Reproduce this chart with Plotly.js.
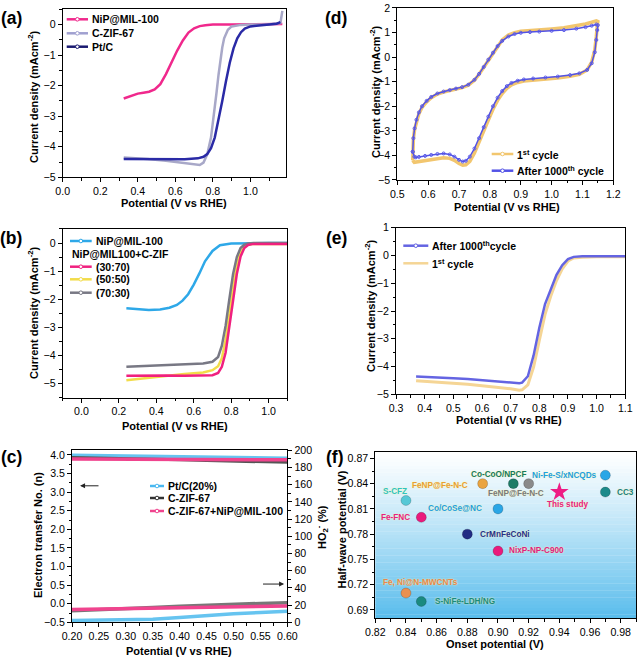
<!DOCTYPE html>
<html><head><meta charset="utf-8">
<script src="https://cdn.plot.ly/plotly-3.0.1.min.js"></script>
<style>html,body{margin:0;padding:0;background:#fff}#chart{width:640px;height:661px}</style>
</head><body><div id="chart"></div>
<script>
// ---------- (a) LSV ----------
const aNiPx = [0.325,0.35,0.37,0.40,0.43,0.46,0.49,0.52,0.55,0.58,0.61,0.64,0.67,0.70,0.73,0.76,0.80,0.90,1.00,1.10,1.17];
const aNiPy = [-2.42,-2.36,-2.31,-2.26,-2.23,-2.20,-2.12,-1.95,-1.62,-1.23,-0.85,-0.52,-0.26,-0.12,-0.05,-0.02,0,0,0,0.01,0.02];
const aZIFx = [0.325,0.37,0.45,0.55,0.65,0.70,0.73,0.75,0.77,0.79,0.80,0.81,0.82,0.83,0.84,0.85,0.86,0.88,0.90,0.95,1.00,1.10,1.16,1.17];
const aZIFy = [-4.35,-4.36,-4.40,-4.46,-4.53,-4.58,-4.60,-4.52,-4.25,-3.70,-3.25,-2.75,-2.20,-1.65,-1.15,-0.75,-0.45,-0.17,-0.06,-0.01,0,0.01,0.05,0.45];
const aPtCx = [0.325,0.37,0.45,0.55,0.65,0.72,0.75,0.77,0.79,0.81,0.83,0.85,0.87,0.89,0.91,0.93,0.95,0.97,1.00,1.05,1.10,1.14,1.16];
const aPtCy = [-4.40,-4.40,-4.41,-4.42,-4.41,-4.38,-4.33,-4.24,-4.05,-3.70,-3.15,-2.50,-1.85,-1.25,-0.78,-0.45,-0.25,-0.13,-0.06,-0.02,0,0.03,0.08];

// ---------- (b) LSV of ratios ----------
const bNiPx = [0.24,0.30,0.36,0.42,0.47,0.51,0.54,0.57,0.60,0.63,0.66,0.70,0.74,0.80,0.90,1.00,1.10];
const bNiPy = [-2.32,-2.36,-2.38,-2.36,-2.30,-2.20,-2.05,-1.82,-1.48,-1.08,-0.65,-0.28,-0.08,-0.02,0,0,0];
const bMixPotential = [0.24,0.30,0.37,0.45,0.55,0.65,0.70,0.73,0.75,0.77,0.79,0.81,0.83,0.85,0.87,0.89,0.92,1.00,1.10];
const b3070 = [-4.72,-4.71,-4.70,-4.71,-4.72,-4.72,-4.70,-4.62,-4.40,-3.90,-3.05,-2.05,-1.10,-0.48,-0.18,-0.07,-0.03,-0.03,-0.03];
const b5050 = [-4.88,-4.83,-4.78,-4.73,-4.66,-4.60,-4.52,-4.38,-4.10,-3.45,-2.55,-1.55,-0.78,-0.32,-0.12,-0.05,-0.03,-0.03,-0.03];
const b7030 = [-4.40,-4.38,-4.36,-4.33,-4.31,-4.28,-4.22,-4.05,-3.65,-2.95,-2.00,-1.10,-0.50,-0.18,-0.06,-0.02,0,0,0];

// ---------- (c) electron transfer / HO2- ----------
const cPotential = [0.20,0.25,0.30,0.35,0.40,0.45,0.50,0.55,0.60];
const cPtC_n  = [3.99,3.98,3.97,3.96,3.95,3.94,3.93,3.92,3.91];
const cZIF_n  = [3.93,3.92,3.90,3.89,3.87,3.85,3.83,3.82,3.80];
const cMix_n  = [3.89,3.89,3.88,3.88,3.88,3.87,3.87,3.87,3.87];
const cPtC_ho2 = [2.0,2.5,3.0,3.5,5.5,8.0,10.0,11.5,12.8];
const cZIF_ho2 = [13.5,14.5,15.8,17.2,18.6,20.0,21.2,22.0,22.8];
const cMix_ho2 = [15.0,15.5,16.0,16.6,17.2,17.8,18.3,18.7,19.0];

// ---------- (d) CV ----------
const dPotential = [0.550,0.552,0.556,0.562,0.570,0.580,0.595,0.610,0.630,0.650,0.670,0.690,0.710,0.730,0.750,0.765,0.780,0.795,0.810,0.825,0.840,0.860,0.880,0.900,0.930,0.960,1.000,1.040,1.080,1.110,1.130,1.145,1.150,
  1.148,1.145,1.140,1.130,1.115,1.090,1.060,1.020,0.980,0.940,0.910,0.890,0.870,0.855,0.840,0.825,0.810,0.795,0.780,0.765,0.750,0.735,0.722,0.712,0.700,0.685,0.670,0.650,0.630,0.610,0.590,0.570,0.560,0.555,0.550];
const dCycle1000 = [-3.85,-3.30,-2.90,-2.55,-2.25,-2.00,-1.78,-1.62,-1.48,-1.40,-1.34,-1.28,-1.22,-1.12,-0.92,-0.68,-0.40,-0.10,0.18,0.45,0.66,0.84,0.94,0.99,1.02,1.04,1.07,1.10,1.16,1.22,1.28,1.33,1.30,
  1.10,0.70,0.20,-0.25,-0.52,-0.66,-0.73,-0.79,-0.83,-0.87,-0.91,-0.96,-1.05,-1.18,-1.38,-1.65,-2.00,-2.42,-2.85,-3.30,-3.72,-4.05,-4.22,-4.25,-4.18,-4.05,-3.96,-3.92,-3.94,-3.98,-4.02,-4.06,-4.08,-4.05,-3.85];
const dCycle1 = [-4.20,-3.35,-2.95,-2.60,-2.30,-2.05,-1.82,-1.65,-1.50,-1.42,-1.36,-1.30,-1.24,-1.14,-0.94,-0.70,-0.42,-0.12,0.18,0.47,0.70,0.90,1.00,1.05,1.09,1.12,1.15,1.20,1.27,1.35,1.42,1.48,1.45,
  1.30,0.85,0.30,-0.20,-0.52,-0.70,-0.78,-0.85,-0.89,-0.93,-0.97,-1.03,-1.13,-1.27,-1.48,-1.76,-2.12,-2.56,-3.00,-3.46,-3.90,-4.24,-4.38,-4.40,-4.33,-4.20,-4.12,-4.10,-4.14,-4.18,-4.23,-4.28,-4.30,-4.28,-4.20];

// ---------- (e) LSV stability ----------
const ePotential = [0.37,0.40,0.45,0.50,0.55,0.60,0.65,0.70,0.73,0.74,0.76,0.78,0.80,0.82,0.84,0.86,0.88,0.90,0.92,0.95,1.00,1.05,1.10];
const eCycle1000 = [-4.36,-4.37,-4.39,-4.42,-4.45,-4.49,-4.53,-4.57,-4.60,-4.58,-4.35,-3.60,-2.60,-1.75,-1.20,-0.70,-0.35,-0.13,-0.05,-0.03,-0.03,-0.03,-0.03];
const eCycle1 = [-4.51,-4.53,-4.56,-4.60,-4.64,-4.69,-4.74,-4.80,-4.85,-4.84,-4.66,-4.02,-3.06,-2.12,-1.46,-0.90,-0.48,-0.20,-0.09,-0.06,-0.05,-0.05,-0.05];

// ---------- (f) comparison ----------
const fCatalysts = ['S-CFZ','FeNP@Fe-N-C','Co-CoO/NPCF','FeNP@Fe-N-C','Ni-Fe-S/xNCQDs','CC3','Co/CoSe@NC','Fe-FNC','CrMnFeCoNi','NixP-NP-C900','Fe, Ni@N-MWCNTs','S-NiFe-LDH/NG'];
const fOnset    = [0.84,0.89,0.91,0.92,0.97,0.97,0.90,0.85,0.88,0.90,0.84,0.85];
const fHalfWave = [0.82,0.84,0.84,0.84,0.85,0.83,0.81,0.80,0.78,0.76,0.71,0.70];
const fStudyName = ['This study'];
const fStudyOnset = [0.94];
const fStudyHalfWave = [0.83];

// ---------- styles ----------
const FONT = 'Liberation Sans, Arial, sans-serif';
const fColors = ['#55c8d6','#eaa440','#1c7c66','#8a8a8a','#2aa6e6','#1d8a8a','#2aa6e6','#ea1a7c','#222c84','#ea1a7c','#ea9050','#1a8a80'];
const fTextColors = ['#2fc4c0','#e8a030','#167a5a','#7a7a7a','#22a0e0','#1a8080','#22a0e0','#e8207f','#25308c','#e0207f','#e8884a','#1a8a7a'];
const fShift = [[-11,9,'center'],[-12.7,-2,'right'],[-14,9,'center'],[-13,-10,'center'],[-6.7,0,'right'],[10,0,'left'],[-14.4,0,'right'],[-9.3,0,'right'],[10.6,0,'left'],[9,0,'left'],[14.8,10.7,'center'],[11.7,0,'left']];

function ax(o){
  return Object.assign({showline:true, linecolor:'#000', linewidth:1, mirror:true, ticks:'outside', ticklen:4, tickwidth:1, tickcolor:'#000',
    showgrid:false, zeroline:false, fixedrange:true, layer:'above traces',
    tickfont:{family:FONT, size:10.6, color:'#000'}}, o);
}
function mn(d){ return {dtick:d, ticks:'outside', ticklen:2.5, tickwidth:1, tickcolor:'#000', showgrid:false}; }

const traces = [
  {x:aNiPx, y:aNiPy, xaxis:'x', yaxis:'y', mode:'lines', line:{color:'#f0288c', width:2.5}},
  {x:aZIFx, y:aZIFy, xaxis:'x', yaxis:'y', mode:'lines', line:{color:'#a8a8c8', width:2.5}},
  {x:aPtCx, y:aPtCy, xaxis:'x', yaxis:'y', mode:'lines', line:{color:'#2a2aa6', width:2.5}},

  {x:bNiPx, y:bNiPy, xaxis:'x2', yaxis:'y2', mode:'lines', line:{color:'#2ea8e8', width:2.5}},
  {x:bMixPotential, y:b5050, xaxis:'x2', yaxis:'y2', mode:'lines', line:{color:'#f2dc4a', width:2.5}},
  {x:bMixPotential, y:b7030, xaxis:'x2', yaxis:'y2', mode:'lines', line:{color:'#787884', width:2.5}},
  {x:bMixPotential, y:b3070, xaxis:'x2', yaxis:'y2', mode:'lines', line:{color:'#f0207f', width:2.5}},

  {x:cPotential, y:cPtC_n, xaxis:'x3', yaxis:'y3', mode:'lines', line:{color:'#66c4f0', width:3.5}},
  {x:cPotential, y:cZIF_n, xaxis:'x3', yaxis:'y3', mode:'lines', line:{color:'#555', width:3}},
  {x:cPotential, y:cMix_n, xaxis:'x3', yaxis:'y3', mode:'lines', line:{color:'#f0448e', width:3.5}},
  {x:cPotential, y:cPtC_ho2, xaxis:'x3', yaxis:'y7', mode:'lines', line:{color:'#66c4f0', width:3.5}},
  {x:cPotential, y:cZIF_ho2, xaxis:'x3', yaxis:'y7', mode:'lines', line:{color:'#777', width:3.5}},
  {x:cPotential, y:cMix_ho2, xaxis:'x3', yaxis:'y7', mode:'lines', line:{color:'#f0448e', width:3.5}},

  {x:dPotential, y:dCycle1, xaxis:'x4', yaxis:'y4', mode:'lines', line:{color:'#f2c66e', width:3.5}},
  {x:dPotential, y:dCycle1000, xaxis:'x4', yaxis:'y4', mode:'lines+markers', line:{color:'#5252e6', width:1.5},
    marker:{symbol:'circle-open', size:3, color:'#5a5ae8'}},

  {x:ePotential, y:eCycle1, xaxis:'x5', yaxis:'y5', mode:'lines', line:{color:'#f5d595', width:3}},
  {x:ePotential, y:eCycle1000, xaxis:'x5', yaxis:'y5', mode:'lines', line:{color:'#6464e2', width:2.5}},

  {x:fOnset, y:fHalfWave, text:fCatalysts, xaxis:'x6', yaxis:'y6', mode:'markers',
    marker:{size:10, color:fColors, line:{width:0.6, color:'rgba(0,0,0,0.3)'}}},
  {x:fStudyOnset, y:fStudyHalfWave, text:fStudyName, xaxis:'x6', yaxis:'y6', mode:'markers',
    marker:{symbol:'star', size:14, color:'#ee1c84', line:{width:0}}}
];

const W=640, H=661;
const px = v => v/W, py = v => 1 - v/H;
const annotations = [];
const shapes = [];
function txt(x, y, t, size, o){ annotations.push(Object.assign({xref:'paper', yref:'paper', x:px(x), y:py(y), text:t, showarrow:false,
  xanchor:'center', yanchor:'middle', font:{family:FONT, size:size, color:'#000'}}, o||{})); }

// panel labels
[['(a)',11,18],['(b)',11,238],['(c)',11,457],['(d)',336,17.5],['(e)',336,238],['(f)',334,457]].forEach(p=>txt(p[1],p[2],'<b>'+p[0]+'</b>',17.5));

// axis titles
const cd = '<b>Current density (mAcm<sup>-2</sup>)</b>';
const pot = '<b>Potential (V vs RHE)</b>';
txt(33,97,cd,11,{textangle:-90}); txt(174,203,pot,11);
txt(33,313,cd,11,{textangle:-90}); txt(175,425.5,pot,11);
txt(38,535,'<b>Electron transfer No. (n)</b>',11,{textangle:-90}); txt(179,650.5,pot,11);
txt(322,527,'<b>HO<sub>2</sub><sup>-</sup> (%)</b>',11,{textangle:-90});
txt(375,92,cd,11,{textangle:-90}); txt(507,207,pot,11);
txt(370,306,cd,11,{textangle:-90}); txt(509,419.5,pot,11);
txt(341.5,530,'<b>Half-wave potential (V)</b>',11,{textangle:-90}); txt(495,644,'<b>Onset potential (V)</b>',11);

// legends (swatch + text)
function leg(x0,x1,y,color,label,w,mk){
  shapes.push({type:'line', xref:'paper', yref:'paper', x0:px(x0), x1:px(x1), y0:py(y), y1:py(y), line:{color:color, width:w||2.5}});
  if(mk!==false){ const cx=(x0+x1)/2; shapes.push({type:'circle', xref:'paper', yref:'paper', x0:px(cx-1.8), x1:px(cx+1.8), y0:py(y+1.8), y1:py(y-1.8), line:{color:color, width:1}, fillcolor:'#fff'}); }
  txt(x1+2,y,'<b>'+label+'</b>',10.5,{xanchor:'left'});
}
leg(66.7,88,19.3,'#f0288c','NiP@MIL-100');
leg(66.7,88,33.3,'#a0a0d0','C-ZIF-67');
leg(66.7,88,46.7,'#1a1a70','Pt/C');
leg(70,91.7,241,'#2ea8e8','NiP@MIL-100');
txt(70,254.3,'<b>NiP@MIL100+C-ZIF</b>',10.5,{xanchor:'left'});
leg(70,91.7,266.7,'#f0207f','(30:70)');
leg(70,91.7,279.3,'#f2dc4a','(50:50)');
leg(70,91.7,292.7,'#787884','(70:30)');
leg(150,164,486,'#4ab8f0','Pt/C(20%)');
leg(150,164,498,'#333','C-ZIF-67');
leg(150,164,511,'#f0448e','C-ZIF-67+NiP@MIL-100');
leg(491.7,513.3,154,'#f2c66e','1<sup>st</sup> cycle');
leg(491.7,513.3,170.7,'#5252e6','After 1000<sup>th</sup> cycle');
leg(403.3,428.3,245.7,'#6464e2','After 1000<sup>th</sup>cycle');
leg(403.3,428.3,263.3,'#f5d595','1<sup>st</sup> cycle',2.5,false);

// (c) arrows
annotations.push({xref:'x3', yref:'y3', axref:'x3', ayref:'y3', x:0.215, y:3.17, ax:0.252, ay:3.17, showarrow:true, arrowhead:2, arrowsize:1, arrowwidth:1, arrowcolor:'#222', text:''});
annotations.push({xref:'x3', yref:'y7', axref:'x3', ayref:'y7', x:0.594, y:44.5, ax:0.552, ay:44.5, showarrow:true, arrowhead:2, arrowsize:1, arrowwidth:1, arrowcolor:'#222', text:''});

// (f) labels anchored at data points
fCatalysts.forEach((n,i)=>{
  annotations.push({xref:'x6', yref:'y6', x:fOnset[i], y:fHalfWave[i], text:'<b>'+n+'</b>', showarrow:false,
    xshift:fShift[i][0], yshift:fShift[i][1], xanchor:fShift[i][2], yanchor:'middle',
    font:{family:FONT, size:8.2, color:fTextColors[i], shadow:'0px 0px 2px #fff6b0'}});
});
annotations.push({xref:'x6', yref:'y6', x:fStudyOnset[0], y:fStudyHalfWave[0], text:'<b>'+fStudyName[0]+'</b>', showarrow:false,
  xshift:8.5, yshift:-12.5, xanchor:'center', yanchor:'middle', font:{family:FONT, size:8.2, color:'#e8207f', shadow:'0px 0px 2px #fff6b0'}});

// (f) gradient background
const N=48;
for(let i=0;i<N;i++){
  const t = 1 - (i+0.5)/N; // 0 top -> 1 bottom
  const f = Math.pow(t,1.15);
  const r = Math.round(255 + (88-255)*f), g = Math.round(255 + (188-255)*f), b = Math.round(255 + (236-255)*f);
  shapes.push({type:'rect', xref:'x6 domain', yref:'y6 domain', x0:0, x1:1, y0:i/N, y1:(i+1)/N+0.002, fillcolor:`rgb(${r},${g},${b})`, line:{width:0}, layer:'below'});
}

const layout = {
  width:W, height:H, margin:{l:0,r:0,t:0,b:0}, showlegend:false,
  paper_bgcolor:'#fff', plot_bgcolor:'rgba(0,0,0,0)',
  font:{family:FONT, color:'#000'},
  xaxis: ax({domain:[0.098,0.447], anchor:'y', range:[0,1.19], tick0:0, dtick:0.2, tickformat:'.1f', minor:mn(0.1)}),
  yaxis: ax({domain:[0.7318,0.9859], anchor:'x', range:[-5,0.5], dtick:1, minor:mn(0.5)}),
  xaxis2: ax({domain:[0.098,0.449], anchor:'y2', range:[-0.1,1.1], tick0:0, dtick:0.2, tickformat:'.1f', minor:mn(0.1)}),
  yaxis2: ax({domain:[0.3983,0.6536], anchor:'x2', range:[-5.5,0.5], dtick:1, minor:mn(0.5)}),
  xaxis3: ax({domain:[0.1125,0.449], anchor:'y3', range:[0.2,0.6], tick0:0.2, dtick:0.05, tickformat:'.2f', minor:mn(0.025)}),
  yaxis3: ax({domain:[0.0585,0.3188], anchor:'x3', range:[-0.5,4.125], tick0:-0.5, dtick:0.5, tickformat:'.1f', minor:mn(0.25)}),
  yaxis7: ax({overlaying:'y3', side:'right', anchor:'x3', range:[0,200], dtick:20, minor:mn(10), mirror:false}),
  xaxis4: ax({domain:[0.6208,0.9583], anchor:'y4', range:[0.5,1.2], dtick:0.1, tickformat:'.1f', minor:mn(0.05)}),
  yaxis4: ax({domain:[0.7277,0.9879], anchor:'x4', range:[-5,2], dtick:1, minor:mn(0.5)}),
  xaxis5: ax({domain:[0.6188,0.977], anchor:'y5', range:[0.3,1.1], dtick:0.1, tickformat:'.1f', minor:mn(0.05)}),
  yaxis5: ax({domain:[0.4035,0.6555], anchor:'x5', range:[-5,1], dtick:1, minor:mn(0.5)}),
  xaxis6: ax({domain:[0.5864,0.9938], anchor:'y6', range:[0.82,0.99], tick0:0.82, dtick:0.02, tickformat:'.2f', minor:mn(0.01)}),
  yaxis6: ax({domain:[0.0646,0.3167], anchor:'x6', range:[0.68,0.878], tick0:0.69, dtick:0.03, tickformat:'.2f', minor:mn(0.015)}),
  annotations: annotations,
  shapes: shapes
};

Plotly.newPlot('chart', traces, layout, {staticPlot:true, displayModeBar:false});
</script>
</body></html>
